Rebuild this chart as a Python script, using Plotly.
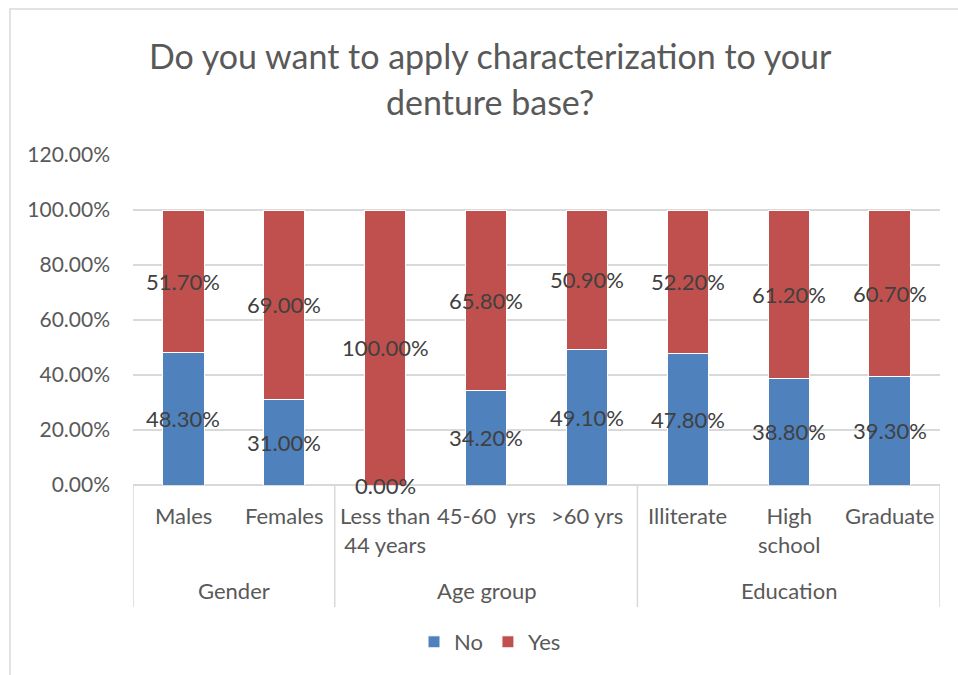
import plotly.graph_objects as go

# Survey responses, grouped by demographic
groups = ["Gender", "Age group", "Education"]
group_sizes = [2, 3, 3]
categories = ["Males", "Females", "Less than<br>44 years", "45-60  yrs", ">60 yrs",
              "Illiterate", "High<br>school", "Graduate"]
no_vals = [0.483, 0.310, 0.000, 0.342, 0.491, 0.478, 0.388, 0.393]
yes_vals = [0.517, 0.690, 1.000, 0.658, 0.509, 0.522, 0.612, 0.607]

BLUE = "#4F81BD"
RED = "#C0504D"
GRID = "#D9D9D9"
TICK = "#595959"
LABEL = "#404040"
FONT = "Lato"

# Pixel frame of the plotting area
L, R, T, B = 133, 940, 155, 485
W, H = 958, 675


def py(p):
    """Convert a pixel row to paper y."""
    return (B - p) / (B - T)


def px(p):
    """Convert a pixel column to paper x."""
    return (p - L) / (R - L)


x = list(range(len(categories)))

fig = go.Figure()
fig.add_trace(go.Bar(x=x, y=no_vals, name="No", marker=dict(color=BLUE, line=dict(color="white", width=1)),
                     width=0.41, hoverinfo="skip"))
fig.add_trace(go.Bar(x=x, y=yes_vals, name="Yes", marker=dict(color=RED, line=dict(color="white", width=1)),
                     width=0.41, hoverinfo="skip"))

annotations = []
# Value labels centred in each segment
for i, (n, y) in enumerate(zip(no_vals, yes_vals)):
    annotations.append(dict(x=i, y=n / 2, xref="x", yref="y", text=f"{n * 100:.2f}%",
                            showarrow=False, font=dict(family=FONT, size=22, color=LABEL)))
    annotations.append(dict(x=i, y=n + y / 2, xref="x", yref="y", text=f"{y * 100:.2f}%",
                            showarrow=False, font=dict(family=FONT, size=22, color=LABEL)))

# Category labels (first level)
for i, c in enumerate(categories):
    annotations.append(dict(x=i, y=py(500), xref="x", yref="paper", text=c, showarrow=False,
                            yanchor="top", align="center",
                            font=dict(family=FONT, size=22, color=TICK)))

# Group labels (second level) and separators
shapes = []
start = 0
bounds = [-0.5]
for g, s in zip(groups, group_sizes):
    centre = start + (s - 1) / 2
    annotations.append(dict(x=centre, y=py(590), xref="x", yref="paper", text=g, showarrow=False,
                            yanchor="middle", font=dict(family=FONT, size=22, color=TICK)))
    start += s
    bounds.append(start - 0.5)

for b in bounds:
    shapes.append(dict(type="line", xref="x", yref="paper", x0=b, x1=b, y0=0, y1=py(607),
                       line=dict(color=GRID, width=1.5)))

# Chart frame
shapes.append(dict(type="rect", xref="paper", yref="paper", x0=px(10), x1=px(975), y0=py(9), y1=py(700),
                   line=dict(color=GRID, width=1.5), layer="below"))

# Two-line chart title
annotations.append(dict(x=490 / W, y=1 - 56 / H, xref="paper", yref="paper", showarrow=False,
                        text="Do you want to apply characterization to your",
                        font=dict(family=FONT, size=34, color=TICK), yanchor="middle"))
annotations.append(dict(x=490 / W, y=1 - 101 / H, xref="paper", yref="paper", showarrow=False,
                        text="denture base?",
                        font=dict(family=FONT, size=34, color=TICK), yanchor="middle"))
# Title annotations use paper coordinates; convert from container fractions
for a in annotations[-2:]:
    cx = a["x"] * W
    cy = a["y"] * H
    a["x"] = px(cx)
    a["y"] = py(H - cy)

fig.update_layout(
    width=W, height=H,
    margin=dict(l=L, r=W - R, t=T, b=H - B),
    paper_bgcolor="white", plot_bgcolor="white",
    barmode="stack", bargap=0.59,
    xaxis=dict(range=[-0.5, 7.5], showticklabels=False, showgrid=False, zeroline=False,
               showline=False, ticks="", fixedrange=True),
    yaxis=dict(range=[0, 1.2], dtick=0.2, tickformat=".2%", showgrid=True, gridcolor=GRID,
               gridwidth=1.5, zeroline=True, zerolinecolor=GRID, zerolinewidth=1.5,
               showline=False, ticks="", ticklabelstandoff=22,
               tickfont=dict(family=FONT, size=21, color=TICK), fixedrange=True),
    legend=dict(orientation="h", x=px(490), xanchor="center", y=py(642), yanchor="middle",
                font=dict(family=FONT, size=22, color=TICK), traceorder="normal"),
    annotations=annotations,
    shapes=shapes,
    showlegend=True,
)

fig.write_html("out.html")
